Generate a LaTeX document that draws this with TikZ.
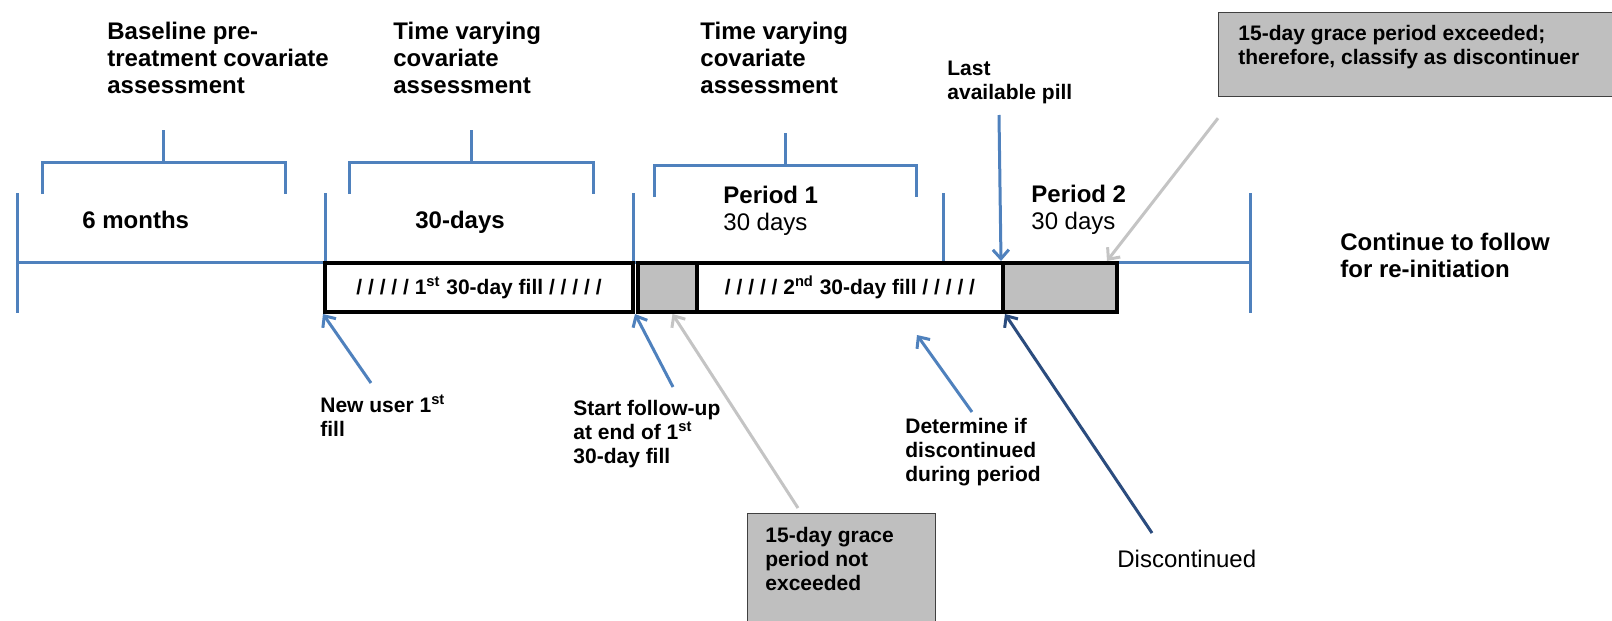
\documentclass[tikz,border=0pt]{standalone}
\usepackage{fontspec}
\setmainfont{Liberation Sans}
\usetikzlibrary{arrows.meta}
\definecolor{tlblue}{HTML}{4F81BD}
\definecolor{tlnavy}{HTML}{2B4C7E}
\definecolor{tlgray}{HTML}{BFBFBF}
\definecolor{tlpale}{HTML}{C4C4C4}

\tikzset{
  tline/.style={tlblue,line width=1.5pt},
  toplbl/.style={font=\bfseries\fontsize{12}{13.5}\selectfont,inner sep=0pt,anchor=north west,align=left},
  botlbl/.style={font=\bfseries\fontsize{10.5}{12}\selectfont,inner sep=0pt,anchor=north west,align=left},
  fillbox/.style={draw=black,line width=2pt,fill=white,minimum height=24.5pt,inner sep=0pt,
    font=\bfseries\fontsize{10.5}{12}\selectfont},
  gapbox/.style={fillbox,fill=tlgray},
  callout/.style={draw=black!75,line width=0.6pt,fill=tlgray,anchor=north west,inner sep=0pt},
  ptr/.style={line width=1.5pt,-{Straight Barb[length=4.5pt,width=8pt]}},
}

\begin{document}
\begin{tikzpicture}[x=0.5pt,y=-0.5pt]
  \useasboundingbox (0,0) rectangle (1612,621);
  % timeline, ticks and brackets
  \draw[tline] (17,262) -- (1250,262);
  \foreach \x in {17,325,633,1250}
    \draw[tline] (\x,193) -- (\x,313);
  \draw[tline] (943,193) -- (943,262);
  \foreach \l/\r/\m/\y in {42/285/163/162, 349/593/471/162, 654/916/785/165}
    \draw[tline] (\l,\y+32) -- (\l,\y) -- (\r,\y) -- (\r,\y+32) (\m,\y) -- (\m,\y-32);

  \node[fillbox,minimum width=154pt] (fill1) at (479,287.5) {/ / / / / 1\textsuperscript{st} 30-day fill / / / / /};
  \node[gapbox,minimum width=29.5pt] (grace1) at (667.5,287.5) {};
  \node[fillbox,minimum width=153pt] (fill2) at (850,287.5) {/ / / / / 2\textsuperscript{nd} 30-day fill / / / / /};
  \node[gapbox,minimum width=57pt] (grace2) at (1060,287.5) {};

  \node[toplbl] (baseline) at (107,22) {Baseline pre-\\treatment covariate\\assessment};
  \node[toplbl] (tvary1) at (393,22) {Time varying\\covariate\\assessment};
  \node[toplbl] (tvary2) at (700,22) {Time varying\\covariate\\assessment};
  \node[toplbl] (sixmonths) at (82,211) {6 months};
  \node[toplbl] (thirtydays) at (415,211) {30-days};
  \node[toplbl] (period1) at (723,186) {Period 1\\\mdseries 30 days};
  \node[toplbl] (period2) at (1031,185) {Period 2\\\mdseries 30 days};
  \node[toplbl] (continue) at (1340,233) {Continue to follow\\for re-initiation};
  \node[botlbl] (lastpill) at (947,61) {Last\\available pill};
  \node[botlbl] (newuser) at (320,395) {New user 1\textsuperscript{st}\\fill};
  \node[botlbl] (startfu) at (573,400) {Start follow-up\\at end of 1\textsuperscript{st}\\30-day fill};
  \node[botlbl] (determine) at (905,418) {Determine if\\discontinued\\during period};
  \node[toplbl,font=\fontsize{12}{13.5}\selectfont] (discont) at (1117,550) {Discontinued};

  \node[callout,minimum width=200pt,minimum height=42pt] (exceeded) at (1218,12) {};
  \node[botlbl] (exceededtxt) at (1238,25) {15-day grace period exceeded;\\therefore, classify as discontinuer};
  \node[callout,minimum width=94pt,minimum height=60pt] (notexceeded) at (747,513) {};
  \node[botlbl] (notexceededtxt) at (765,527) {15-day grace\\period not\\exceeded};

  % pointers
  \coordinate (pilltop) at (999,115);
  \coordinate (newusertail) at (371,383);
  \coordinate (startfutail) at (673,387);
  \coordinate (determinetail) at (972,412);
  \coordinate (determinehead) at (917,335);
  \coordinate (discontail) at (1152,533);
  \draw[ptr,tlblue] (pilltop) -- ([xshift=-2pt]fill2.north east);
  \draw[ptr,tlblue] (newusertail) -- (fill1.south west);
  \draw[ptr,tlblue] (startfutail) -- (fill1.south east);
  \draw[ptr,tlblue] (determinetail) -- (determinehead);
  \draw[ptr,tlnavy] (discontail) -- (fill2.south east);
  \draw[ptr,tlpale] ([yshift=-10.5pt]exceeded.south west) -- ([xshift=-6pt]grace2.north east);
  \draw[ptr,tlpale] ([xshift=25.5pt,yshift=2.5pt]notexceeded.north west) -- ([xshift=2.5pt]grace1.south);
\end{tikzpicture}
\end{document}
